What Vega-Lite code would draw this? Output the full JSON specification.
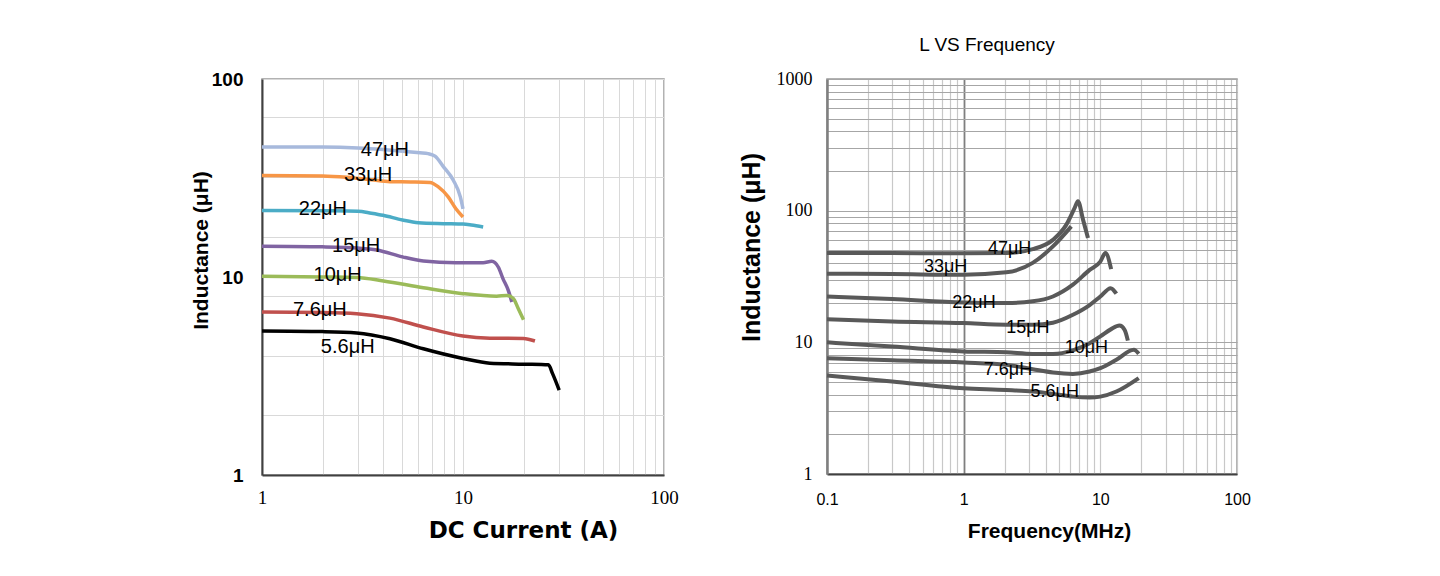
{
  "$schema": "https://vega.github.io/schema/vega-lite/v6.json",
  "background": "white",
  "autosize": {"type": "pad"},
  "padding": {"left": 189, "top": 35, "right": 5, "bottom": 5},
  "bounds": "flush",
  "spacing": 163,
  "config": {
    "font": "Liberation Sans",
    "view": {"stroke": "#999999", "strokeWidth": 1.5}
  },
  "datasets": {
    "left": [
      {"s": "47μH", "I": 1, "L": 45.4}, {"s": "47μH", "I": 2, "L": 45.3}, {"s": "47μH", "I": 3, "L": 44.8}, {"s": "47μH", "I": 4, "L": 44.0}, {"s": "47μH", "I": 5, "L": 43.2}, {"s": "47μH", "I": 6.1, "L": 42.4}, {"s": "47μH", "I": 6.7, "L": 42.0}, {"s": "47μH", "I": 7.26, "L": 40.8}, {"s": "47μH", "I": 8, "L": 36}, {"s": "47μH", "I": 8.95, "L": 30.8}, {"s": "47μH", "I": 9.7, "L": 25.4}, {"s": "47μH", "I": 10, "L": 22.1},
      {"s": "33μH", "I": 1, "L": 32.6}, {"s": "33μH", "I": 2, "L": 32.4}, {"s": "33μH", "I": 2.64, "L": 31.9}, {"s": "33μH", "I": 3.5, "L": 31.0}, {"s": "33μH", "I": 4.33, "L": 30.3}, {"s": "33μH", "I": 5.5, "L": 30.2}, {"s": "33μH", "I": 6.85, "L": 30.0}, {"s": "33μH", "I": 7.54, "L": 28.5}, {"s": "33μH", "I": 8.44, "L": 25.4}, {"s": "33μH", "I": 9.2, "L": 22.2}, {"s": "33μH", "I": 10, "L": 20.1},
      {"s": "22μH", "I": 1, "L": 21.7}, {"s": "22μH", "I": 2, "L": 21.6}, {"s": "22μH", "I": 3, "L": 21.5}, {"s": "22μH", "I": 3.5, "L": 21.0}, {"s": "22μH", "I": 4, "L": 20.5}, {"s": "22μH", "I": 5, "L": 19.4}, {"s": "22μH", "I": 6, "L": 18.8}, {"s": "22μH", "I": 8, "L": 18.6}, {"s": "22μH", "I": 10, "L": 18.5}, {"s": "22μH", "I": 11, "L": 18.3}, {"s": "22μH", "I": 12.6, "L": 17.9},
      {"s": "15μH", "I": 1, "L": 14.3}, {"s": "15μH", "I": 2, "L": 14.2}, {"s": "15μH", "I": 3, "L": 14.0}, {"s": "15μH", "I": 3.72, "L": 13.7}, {"s": "15μH", "I": 5.05, "L": 12.6}, {"s": "15μH", "I": 6.35, "L": 12.05}, {"s": "15μH", "I": 9.2, "L": 11.8}, {"s": "15μH", "I": 12.6, "L": 11.8}, {"s": "15μH", "I": 13.9, "L": 12.0}, {"s": "15μH", "I": 15, "L": 11.2}, {"s": "15μH", "I": 15.8, "L": 9.82}, {"s": "15μH", "I": 16.8, "L": 8.56}, {"s": "15μH", "I": 17.5, "L": 7.48},
      {"s": "10μH", "I": 1, "L": 10.08}, {"s": "10μH", "I": 2, "L": 10.0}, {"s": "10μH", "I": 2.96, "L": 9.94}, {"s": "10μH", "I": 4.02, "L": 9.55}, {"s": "10μH", "I": 6.35, "L": 8.83}, {"s": "10μH", "I": 10, "L": 8.24}, {"s": "10μH", "I": 14.7, "L": 8.0}, {"s": "10μH", "I": 16.5, "L": 8.07}, {"s": "10μH", "I": 17.8, "L": 7.79}, {"s": "10μH", "I": 18.8, "L": 6.95}, {"s": "10μH", "I": 20, "L": 6.09},
      {"s": "7.6μH", "I": 1, "L": 6.66}, {"s": "7.6μH", "I": 2, "L": 6.62}, {"s": "7.6μH", "I": 2.96, "L": 6.53}, {"s": "7.6μH", "I": 4.33, "L": 6.2}, {"s": "7.6μH", "I": 6.35, "L": 5.59}, {"s": "7.6μH", "I": 10, "L": 5.03}, {"s": "7.6μH", "I": 13.6, "L": 4.91}, {"s": "7.6μH", "I": 20, "L": 4.89}, {"s": "7.6μH", "I": 22.8, "L": 4.75},
      {"s": "5.6μH", "I": 1, "L": 5.34}, {"s": "5.6μH", "I": 2, "L": 5.3}, {"s": "5.6μH", "I": 2.96, "L": 5.22}, {"s": "5.6μH", "I": 4.33, "L": 4.88}, {"s": "5.6μH", "I": 6.35, "L": 4.34}, {"s": "5.6μH", "I": 10, "L": 3.88}, {"s": "5.6μH", "I": 13.6, "L": 3.67}, {"s": "5.6μH", "I": 20, "L": 3.63}, {"s": "5.6μH", "I": 26.6, "L": 3.6}, {"s": "5.6μH", "I": 27.9, "L": 3.25}, {"s": "5.6μH", "I": 30.1, "L": 2.68}
    ],
    "leftLabels": [
      {"t": "47μH", "I": 4.09, "L": 43.6},
      {"t": "33μH", "I": 3.37, "L": 32.7},
      {"t": "22μH", "I": 2.01, "L": 22.1},
      {"t": "15μH", "I": 2.94, "L": 14.3},
      {"t": "10μH", "I": 2.38, "L": 10.2},
      {"t": "7.6μH", "I": 1.94, "L": 6.79},
      {"t": "5.6μH", "I": 2.67, "L": 4.43}
    ],
    "right": [
      {"s": "47μH", "f": 0.1, "L": 47.7}, {"s": "47μH", "f": 0.3, "L": 47.6}, {"s": "47μH", "f": 1, "L": 47.4}, {"s": "47μH", "f": 2.05, "L": 47.6}, {"s": "47μH", "f": 3.2, "L": 51}, {"s": "47μH", "f": 4.5, "L": 60}, {"s": "47μH", "f": 5.63, "L": 78}, {"s": "47μH", "f": 6.49, "L": 105}, {"s": "47μH", "f": 6.86, "L": 118}, {"s": "47μH", "f": 7.47, "L": 85.5}, {"s": "47μH", "f": 8.12, "L": 62},
      {"s": "33μH", "f": 0.1, "L": 33.2}, {"s": "33μH", "f": 0.3, "L": 33.0}, {"s": "33μH", "f": 1, "L": 32.6}, {"s": "33μH", "f": 2.05, "L": 34.0}, {"s": "33μH", "f": 3.2, "L": 40.1}, {"s": "33μH", "f": 4.5, "L": 53.5}, {"s": "33μH", "f": 6.13, "L": 76},
      {"s": "22μH", "f": 0.1, "L": 22.3}, {"s": "22μH", "f": 0.3, "L": 21.3}, {"s": "22μH", "f": 1, "L": 20.1}, {"s": "22μH", "f": 2.05, "L": 19.9}, {"s": "22μH", "f": 3.2, "L": 20.5}, {"s": "22μH", "f": 4.5, "L": 22.3}, {"s": "22μH", "f": 6.3, "L": 27.4}, {"s": "22μH", "f": 8.35, "L": 35.5}, {"s": "22μH", "f": 10, "L": 41}, {"s": "22μH", "f": 10.9, "L": 47.7}, {"s": "22μH", "f": 12, "L": 36},
      {"s": "15μH", "f": 0.1, "L": 15.0}, {"s": "15μH", "f": 0.3, "L": 14.4}, {"s": "15μH", "f": 1, "L": 14.0}, {"s": "15μH", "f": 2.05, "L": 13.6}, {"s": "15μH", "f": 3.2, "L": 13.6}, {"s": "15μH", "f": 4.5, "L": 14.1}, {"s": "15μH", "f": 6.3, "L": 16.2}, {"s": "15μH", "f": 8.35, "L": 19.2}, {"s": "15μH", "f": 10, "L": 22.3}, {"s": "15μH", "f": 11.9, "L": 25.8}, {"s": "15μH", "f": 13.1, "L": 23.4},
      {"s": "10μH", "f": 0.1, "L": 10.0}, {"s": "10μH", "f": 0.3, "L": 9.3}, {"s": "10μH", "f": 1, "L": 8.53}, {"s": "10μH", "f": 2.05, "L": 8.4}, {"s": "10μH", "f": 3.2, "L": 8.17}, {"s": "10μH", "f": 4.5, "L": 8.17}, {"s": "10μH", "f": 6.3, "L": 8.7}, {"s": "10μH", "f": 8.35, "L": 9.85}, {"s": "10μH", "f": 10, "L": 11.1}, {"s": "10μH", "f": 12, "L": 12.6}, {"s": "10μH", "f": 13.8, "L": 13.4}, {"s": "10μH", "f": 15.07, "L": 12.4}, {"s": "10μH", "f": 15.9, "L": 10.3},
      {"s": "7.6μH", "f": 0.1, "L": 7.58}, {"s": "7.6μH", "f": 0.3, "L": 7.3}, {"s": "7.6μH", "f": 1, "L": 7.03}, {"s": "7.6μH", "f": 2.05, "L": 6.76}, {"s": "7.6μH", "f": 3.2, "L": 6.25}, {"s": "7.6μH", "f": 4.5, "L": 5.9}, {"s": "7.6μH", "f": 6.3, "L": 5.76}, {"s": "7.6μH", "f": 8.35, "L": 6.0}, {"s": "7.6μH", "f": 10, "L": 6.36}, {"s": "7.6μH", "f": 13.1, "L": 7.37}, {"s": "7.6μH", "f": 17.6, "L": 8.77}, {"s": "7.6μH", "f": 19.1, "L": 8.18},
      {"s": "5.6μH", "f": 0.1, "L": 5.6}, {"s": "5.6μH", "f": 0.3, "L": 5.04}, {"s": "5.6μH", "f": 1, "L": 4.48}, {"s": "5.6μH", "f": 2.05, "L": 4.35}, {"s": "5.6μH", "f": 3.2, "L": 4.23}, {"s": "5.6μH", "f": 4.5, "L": 4.06}, {"s": "5.6μH", "f": 6.3, "L": 3.87}, {"s": "5.6μH", "f": 8.35, "L": 3.81}, {"s": "5.6μH", "f": 10, "L": 3.87}, {"s": "5.6μH", "f": 13.1, "L": 4.23}, {"s": "5.6μH", "f": 19.1, "L": 5.35}
    ],
    "rightLabels": [
      {"t": "47μH", "f": 2.17, "L": 51.1},
      {"t": "33μH", "f": 0.738, "L": 37.1},
      {"t": "22μH", "f": 1.19, "L": 19.9},
      {"t": "15μH", "f": 2.95, "L": 12.8},
      {"t": "10μH", "f": 7.9, "L": 9.03},
      {"t": "7.6μH", "f": 2.11, "L": 6.18},
      {"t": "5.6μH", "f": 4.64, "L": 4.23}
    ]
  },
  "hconcat": [
    {
      "width": 402,
      "height": 396,
      "layer": [
        {
          "data": {"name": "left"},
          "mark": {"type": "line", "interpolate": "monotone", "strokeWidth": 3.5},
          "encoding": {
            "x": {
              "field": "I", "type": "quantitative",
              "scale": {"type": "log", "domain": [1, 100]},
              "axis": {
                "values": [1, 2, 3, 4, 5, 6, 7, 8, 9, 10, 20, 30, 40, 50, 60, 70, 80, 90, 100],
                "labelExpr": "datum.value == 1 || datum.value == 10 || datum.value == 100 ? datum.value + '' : ''",
                "labelFont": "Liberation Serif", "labelFontSize": 19, "labelColor": "#000000",
                "labelPadding": 13, "labelFlush": false, "labelOverlap": false,
                "ticks": false, "grid": true, "gridColor": "#d9d9d9", "gridWidth": 1,
                "domainColor": "#404040", "domainWidth": 2,
                "title": "DC Current (A)", "titleFont": "DejaVu Sans", "titleFontSize": 23,
                "titleFontWeight": "bold", "titleColor": "#000000", "titlePadding": 12, "titleX": 261
              }
            },
            "y": {
              "field": "L", "type": "quantitative",
              "scale": {"type": "log", "domain": [1, 100]},
              "axis": {
                "values": [1, 2, 4, 8, 10, 16, 32, 64, 100],
                "labelExpr": "datum.value == 1 || datum.value == 10 || datum.value == 100 ? datum.value + '' : ''",
                "labelFont": "Liberation Sans", "labelFontWeight": "bold", "labelFontSize": 19, "labelColor": "#000000",
                "labelPadding": 19, "labelFlush": false, "labelOverlap": false,
                "ticks": false, "grid": true, "gridColor": "#d9d9d9", "gridWidth": 1,
                "domainColor": "#404040", "domainWidth": 2,
                "title": "Inductance (μH)", "titleFontSize": 21, "titleFontWeight": "bold",
                "titleColor": "#000000", "titlePadding": 0, "titleY": 171
              }
            },
            "color": {
              "field": "s", "type": "nominal", "legend": null,
              "scale": {
                "domain": ["47μH", "33μH", "22μH", "15μH", "10μH", "7.6μH", "5.6μH"],
                "range": ["#a7b9dc", "#f79646", "#4bacc6", "#8064a2", "#9bbb59", "#c0504d", "#000000"]
              }
            }
          }
        },
        {
          "data": {"name": "leftLabels"},
          "mark": {"type": "text", "fontSize": 20, "color": "#000000", "font": "Liberation Sans"},
          "encoding": {
            "x": {"field": "I", "type": "quantitative"},
            "y": {"field": "L", "type": "quantitative"},
            "text": {"field": "t"}
          }
        }
      ]
    },
    {
      "width": 410,
      "height": 395,
      "title": {"text": "L VS Frequency", "fontSize": 19, "fontWeight": "normal", "font": "Liberation Sans", "color": "#000000", "frame": "group", "offset": 15, "dx": -45},
      "layer": [
        {
          "data": {"name": "right"},
          "mark": {"type": "line", "interpolate": "monotone", "strokeWidth": 4, "color": "#595959"},
          "encoding": {
            "x": {
              "field": "f", "type": "quantitative",
              "scale": {"type": "log", "domain": [0.1, 100]},
              "axis": {
                "values": [0.1, 0.2, 0.3, 0.4, 0.5, 0.6, 0.7, 0.8, 0.9, 1, 2, 3, 4, 5, 6, 7, 8, 9, 10, 20, 30, 40, 50, 60, 70, 80, 90, 100],
                "labelExpr": "datum.value == 0.1 || datum.value == 1 || datum.value == 10 || datum.value == 100 ? datum.value + '' : ''",
                "labelFont": "Liberation Sans", "labelFontSize": 16, "labelColor": "#000000",
                "labelPadding": 17, "labelFlush": false, "labelOverlap": false,
                "ticks": false, "grid": true,
                "gridColor": {"condition": {"test": "datum.value == 1", "value": "#7f7f7f"}, "value": "#c8c8c8"},
                "gridWidth": {"condition": {"test": "datum.value == 1", "value": 1.8}, "value": 1.2},
                "domainColor": "#404040", "domainWidth": 2,
                "title": "Frequency(MHz)", "titleFont": "Liberation Sans", "titleFontSize": 21,
                "titleFontWeight": "bold", "titleColor": "#000000", "titlePadding": 13, "titleX": 222
              }
            },
            "y": {
              "field": "L", "type": "quantitative",
              "scale": {"type": "log", "domain": [1, 1000]},
              "axis": {
                "values": [1, 2, 3, 4, 5, 6, 7, 8, 9, 10, 20, 30, 40, 50, 60, 70, 80, 90, 100, 200, 300, 400, 500, 600, 700, 800, 900, 1000],
                "labelExpr": "datum.value == 1 || datum.value == 10 || datum.value == 100 || datum.value == 1000 ? datum.value + '' : ''",
                "labelFont": "Liberation Serif", "labelFontSize": 18, "labelColor": "#000000",
                "labelPadding": 15, "labelFlush": false, "labelOverlap": false,
                "ticks": false, "grid": true, "gridColor": "#a6a6a6", "gridWidth": 1.2,
                "domainColor": "#7f7f7f", "domainWidth": 2.5,
                "title": "Inductance (μH)", "titleFontSize": 25, "titleFontWeight": "bold",
                "titleColor": "#000000", "titlePadding": 12, "titleY": 168
              }
            },
            "detail": {"field": "s", "type": "nominal"}
          }
        },
        {
          "data": {"name": "rightLabels"},
          "mark": {"type": "text", "fontSize": 18, "color": "#000000", "font": "Liberation Sans"},
          "encoding": {
            "x": {"field": "f", "type": "quantitative"},
            "y": {"field": "L", "type": "quantitative"},
            "text": {"field": "t"}
          }
        }
      ]
    }
  ]
}
